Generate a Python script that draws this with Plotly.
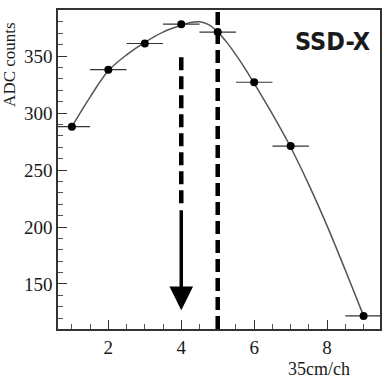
import plotly.graph_objects as go

# measured data points (channel, ADC counts)
channels = [1, 2, 3, 4, 5, 6, 7, 9]
adc_counts = [288, 338, 361, 378, 371, 327, 271, 122]
x_half_width = [0.5, 0.5, 0.5, 0.5, 0.5, 0.5, 0.5, 0.5]

# fitted curve
curve_x = [1, 1.5, 2, 2.5, 3, 3.5, 4, 4.25, 4.5, 4.75, 5, 5.25, 5.5, 5.75, 6, 6.5, 7, 7.5, 8, 8.5, 9]
curve_y = [288, 314, 337, 351, 362, 371, 377, 379.5, 380, 377.5, 371, 362, 351, 339, 326, 299, 270, 237, 201, 162, 122]

# marker lines
peak_channel = 4
peak_line_top = 349
arrow_start = 216
arrow_tip = 127
center_channel = 5

x_ticks = [2, 4, 6, 8]
y_ticks = [150, 200, 250, 300, 350]

fig = go.Figure()

fig.add_trace(go.Scatter(
    x=curve_x, y=curve_y, mode="lines", line=dict(color="#555555", width=1.5, shape="spline"),
    hoverinfo="skip", showlegend=False))

fig.add_trace(go.Scatter(
    x=channels, y=adc_counts, mode="markers",
    marker=dict(color="black", size=8),
    error_x=dict(type="data", array=x_half_width, visible=True, color="#333333", thickness=1.2, width=0),
    showlegend=False))

# dashed line at the peak channel ending in an arrow
fig.add_shape(type="line", xref="x", yref="y", x0=peak_channel, x1=peak_channel,
              y0=peak_line_top, y1=arrow_start, line=dict(color="black", width=4.5, dash="13px,6px"))
fig.add_annotation(x=peak_channel, y=arrow_tip, ax=peak_channel, ay=arrow_start,
                   xref="x", yref="y", axref="x", ayref="y", text="", showarrow=True,
                   arrowhead=2, arrowwidth=3.5, arrowsize=1.35, arrowcolor="black", standoff=0)

# dashed line at the center channel, full height
fig.add_shape(type="line", xref="x", yref="paper", x0=center_channel, x1=center_channel,
              y0=0, y1=1, line=dict(color="black", width=4.5, dash="13px,6px"))

fig.add_annotation(x=0.975, y=0.9, xref="paper", yref="paper", xanchor="right", yanchor="middle",
                   text="<b>SSD-X</b>", showarrow=False,
                   font=dict(family="Liberation Sans Narrow, DejaVu Sans Condensed, Arial Narrow, sans-serif",
                             size=25, color="#1a1a1a"))

fig.add_annotation(x=-0.149, y=0.828, xref="paper", yref="paper", xanchor="center", yanchor="middle",
                   text="ADC counts", showarrow=False, textangle=-90,
                   font=dict(family="Liberation Serif, Times New Roman, serif", size=17, color="#1a1a1a"))

fig.add_annotation(x=0.913, y=-0.125, xref="paper", yref="paper", xanchor="right", yanchor="middle",
                   text="35cm/ch", showarrow=False,
                   font=dict(family="Liberation Serif, Times New Roman, serif", size=18, color="#1a1a1a"))

fig.update_layout(
    width=384, height=379,
    margin=dict(l=58, r=4, t=10, b=50, autoexpand=False),
    paper_bgcolor="white", plot_bgcolor="white",
    font=dict(family="Liberation Serif, Times New Roman, serif", size=19, color="#1a1a1a"),
)

fig.update_xaxes(range=[0.62, 9.45], tickvals=x_ticks, ticks="inside", ticklen=9, tickwidth=1.2,
                 tickcolor="#333333", showline=True, linecolor="#333333", linewidth=1.5, mirror=True,
                 showgrid=False, zeroline=False,
                 minor=dict(dtick=0.5, ticks="inside", ticklen=5, tickcolor="#555555", tickwidth=1),
                 title=None)
fig.update_yaxes(range=[110.5, 390.4], tickvals=y_ticks, ticks="inside", ticklen=9, tickwidth=1.2,
                 tickcolor="#333333", showline=True, linecolor="#333333", linewidth=1.5, mirror=True,
                 showgrid=False, zeroline=False,
                 minor=dict(dtick=10, ticks="inside", ticklen=5, tickcolor="#555555", tickwidth=1),
                 title=None)

fig.write_html("out.html", config={"displayModeBar": False},
               post_script="document.body.style.margin='0';document.body.style.padding='0';")
